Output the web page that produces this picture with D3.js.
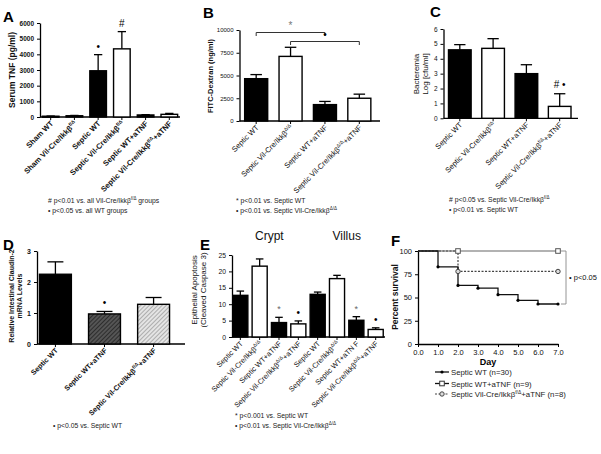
<!DOCTYPE html>
<html><head><meta charset="utf-8">
<script src="https://cdn.jsdelivr.net/npm/d3@7"></script>
<style>
body{margin:0;background:#fff;}
svg{display:block;font-family:"Liberation Sans",Arial,sans-serif;}
</style></head>
<body><svg id="c" width="601" height="454"></svg>
<script>
// ---------- DATA ----------
const aCategories = ["Sham WT","Sham Vil-Cre/Ikkβ^{f/Δ}","Septic WT","Septic Vil-Cre/Ikkβ^{f/Δ}","Septic WT+aTNF","Septic Vil-Cre/Ikkβ^{f/Δ}+aTNF"];
const aMeans = [50, 80, 2950, 4350, 130, 170];
const aSem = [10, 20, 1030, 1100, 20, 60];
const aMarks = ["","","•","#","",""];
const aTicks = [0,1000,2000,3000,4000,5000,6000];

const bCategories = ["Septic WT","Septic Vil-Cre/Ikkβ^{Δ/Δ}","Septic WT+aTNF","Septic Vil-Cre/Ikkβ^{Δ/Δ}+aTNF"];
const bMeans = [4650, 7100, 1800, 2500];
const bSem = [450, 1000, 350, 450];
const bTicks = [0,2500,5000,7500,10000];

const cCategories = ["Septic WT","Septic Vil-Cre/Ikkβ^{f/Δ}","Septic WT+aTNF","Septic Vil-Cre/Ikkβ^{f/Δ}+aTNF"];
const cMeans = [4.6, 4.7, 3.0, 0.8];
const cSem = [0.35, 0.65, 0.6, 0.85];
const cMarks = ["","","","# •"];
const cTicks = [0,1,2,3,4,5,6];

const dCategories = ["Septic WT","Septic WT+aTNF","Septic Vil-Cre/Ikkβ^{f/Δ}+aTNF"];
const dMeans = [2.25, 0.97, 1.28];
const dSem = [0.4, 0.08, 0.22];
const dMarks = ["","•",""];
const dTicks = [0,1,2,3];

const eCategories = ["Septic WT","Septic Vil-Cre/Ikkβ^{Δ/Δ}","Septic WT+aTNF","Septic Vil-Cre/Ikkβ^{Δ/Δ}+aTNF","Septic WT ","Septic Vil-Cre/Ikkβ^{Δ/Δ} ","Septic WT+aTN F","Septic Vil-Cre/Ikkβ^{Δ/Δ}+aTNF "];
const eMeans = [12.7, 21.6, 4.4, 4.0, 13.0, 17.8, 5.1, 2.3];
const eSem = [1.3, 2.2, 1.6, 0.9, 0.7, 1.0, 1.1, 0.5];
const eMarks = ["","","*","•","","","*","•"];
const eTicks = [0,5,10,15,20,25];
const eGroups = ["Crypt","Villus"];

const fDays = [0,1,2,3,4,5,6,7];
const fWT = [100,83,63,60,53,47,43,43];
const fWTaTNF = [100,100,100,100,100,100,100,100];
const fVilaTNF = [100,100,78,78,78,78,78,78];
const fTicksY = [0,25,50,75,100];
const fLegend = ["Septic WT (n=30)","Septic WT+aTNF (n=9)","Septic Vil-Cre/Ikkβ^{f/Δ}+aTNF (n=8)"];

// ---------- HELPERS ----------
const svg = d3.select("#c");
svg.append("rect").attr("width",601).attr("height",454).attr("fill","#fff");

const defs = svg.append("defs");
function hatch(id, bg, fg){
  const p = defs.append("pattern").attr("id",id).attr("patternUnits","userSpaceOnUse")
    .attr("width",3).attr("height",3).attr("patternTransform","rotate(45)");
  p.append("rect").attr("width",3).attr("height",3).attr("fill",bg);
  p.append("line").attr("x1",0).attr("y1",0).attr("x2",0).attr("y2",3).attr("stroke",fg).attr("stroke-width",1.2);
}
hatch("hDark","#555","#111");
hatch("hLight","#e4e4e4","#888");

function rich(sel, str, supSize){
  const parts = str.split(/\^\{([^}]*)\}/);
  let shifted = false;
  parts.forEach((p,i)=>{
    if(p==="") return;
    const t = sel.append("tspan").text(p);
    if(i%2===1){ t.attr("font-size",supSize||"70%").attr("dy",-3); shifted=true; }
    else if(shifted){ t.attr("dy",3); shifted=false; }
  });
}

function letter(x,y,t){
  svg.append("text").attr("x",x).attr("y",y).attr("font-size",15).attr("font-weight","bold").text(t);
}

function barPanel(cfg){
  const g = svg.append("g");
  const x = d3.scaleBand().domain(cfg.cats).range(cfg.xr).paddingInner(cfg.pi).paddingOuter(cfg.po);
  const y = d3.scaleLinear().domain(cfg.yd).range(cfg.yr);
  const fw = cfg.bold ? "bold" : "normal";
  // y axis
  const ax = g.append("g").attr("transform",`translate(${cfg.xr[0]},0)`)
    .call(d3.axisLeft(y).tickValues(cfg.ticks).tickSize(3).tickSizeOuter(0).tickFormat(d3.format("d")));
  ax.select(".domain").attr("stroke","#000").attr("stroke-width",1.3);
  ax.selectAll(".tick line").attr("stroke","#000").attr("stroke-width",1);
  ax.selectAll("text").attr("font-size",cfg.tf||7).attr("font-weight",fw).attr("font-family","Liberation Sans, Arial").attr("fill","#111");
  // x axis line
  g.append("line").attr("x1",cfg.xr[0]).attr("x2",cfg.xEnd).attr("y1",y(0)).attr("y2",y(0)).attr("stroke","#000").attr("stroke-width",1.3);
  g.selectAll(".xt").data(cfg.cats).join("line").attr("x1",d=>x(d)+x.bandwidth()/2).attr("x2",d=>x(d)+x.bandwidth()/2)
    .attr("y1",y(0)).attr("y2",y(0)+3).attr("stroke","#000");
  // bars
  const data = cfg.cats.map((c,i)=>({c,m:cfg.means[i],s:cfg.sem[i],f:cfg.fills[i],mk:cfg.marks?cfg.marks[i]:""}));
  const eb = g.selectAll(".eb").data(data).join("g");
  eb.append("line").attr("x1",d=>x(d.c)+x.bandwidth()/2).attr("x2",d=>x(d.c)+x.bandwidth()/2)
    .attr("y1",d=>y(d.m)).attr("y2",d=>y(d.m+d.s)).attr("stroke","#000").attr("stroke-width",1.3);
  eb.append("line").attr("x1",d=>x(d.c)+x.bandwidth()*0.25).attr("x2",d=>x(d.c)+x.bandwidth()*0.75)
    .attr("y1",d=>y(d.m+d.s)).attr("y2",d=>y(d.m+d.s)).attr("stroke","#000").attr("stroke-width",1.3);
  g.selectAll(".bar").data(data).join("rect")
    .attr("x",d=>x(d.c)).attr("width",x.bandwidth())
    .attr("y",d=>y(d.m)).attr("height",d=>Math.max(y(0)-y(d.m),1))
    .attr("fill",d=>d.f).attr("stroke","#000").attr("stroke-width",1.4);
  g.selectAll(".mk").data(data.filter(d=>d.mk)).join("text")
    .attr("x",d=>x(d.c)+x.bandwidth()/2).attr("y",d=>y(d.m+d.s)-(cfg.mkOff||5))
    .attr("text-anchor","middle").attr("font-size",d=>d.mk==="*"?9:10).attr("fill",d=>d.mk==="*"?"#666":"#000")
    .text(d=>d.mk);
  // x labels
  g.selectAll(".xl").data(data).join("text")
    .attr("transform",d=>`translate(${x(d.c)+x.bandwidth()/2+3},${y(0)+7}) rotate(${cfg.rot||-45})`)
    .attr("text-anchor","end").attr("font-size",cfg.lf||7).attr("font-weight",fw).attr("fill","#111")
    .each(function(d){ rich(d3.select(this), d.c.trim(), "5px"); });
  // y label
  const yl = g.append("text").attr("transform",`translate(${cfg.ylx},${cfg.yly}) rotate(-90)`)
    .attr("text-anchor","middle").attr("font-size",cfg.ylf||8).attr("font-weight",cfg.ylb?"bold":"normal").attr("fill","#111");
  cfg.ylab.forEach((t,i)=>yl.append("tspan").attr("x",0).attr("dy",i===0?0:cfg.ylf*1.15||9).text(t));
  // footnotes
  cfg.notes.forEach((t,i)=>{
    const tx = g.append("text").attr("x",cfg.nx).attr("y",cfg.ny+i*9.5).attr("font-size",6.8).attr("fill","#222");
    rich(tx,t,"4.5px");
  });
  return {g,x,y};
}

// ---------- PANEL A ----------
letter(3,22,"A");
barPanel({cats:aCategories,means:aMeans,sem:aSem,marks:aMarks,fills:["#000","#fff","#000","#fff","#000","#fff"],
  xr:[40,180],xEnd:180,pi:0.3,po:0.1,yd:[0,6000],yr:[117,23],ticks:aTicks,bold:true,tf:6.5,lf:7.6,
  ylab:["Serum TNF (pg/ml)"],ylx:15,yly:70,ylf:8.5,ylb:true,
  notes:["# p<0.01 vs. all Vil-Cre/Ikkβ^{f/Δ} groups","• p<0.05 vs. all WT groups"],nx:48,ny:203});

// ---------- PANEL B ----------
letter(203,18,"B");
const pb = barPanel({cats:bCategories,means:bMeans,sem:bSem,fills:["#000","#fff","#000","#fff"],
  xr:[239.5,376],xEnd:380,pi:0.33,po:0.15,yd:[0,10000],yr:[121,30],ticks:bTicks,bold:false,tf:6,lf:7.5,
  ylab:["FITC-Dextran (ng/ml)"],ylx:213,yly:76,ylf:7.5,ylb:true,
  notes:["* p<0.01 vs. Septic WT","• p<0.01 vs. Septic Vil-Cre/Ikkβ^{Δ/Δ}"],nx:236,ny:203});
// brackets
function bracket(p, c1, c2, yTop, leg, mark, mcol){
  const x1 = p.x(c1)+p.x.bandwidth()/2, x2 = p.x(c2)+p.x.bandwidth()/2;
  p.g.append("path").attr("d",`M${x1},${yTop+leg}V${yTop}H${x2}V${yTop+leg}`).attr("fill","none").attr("stroke","#333").attr("stroke-width",1);
  p.g.append("text").attr("x",(x1+x2)/2).attr("y",yTop-4).attr("text-anchor","middle").attr("font-size",10).attr("fill",mcol).text(mark);
}
bracket(pb, bCategories[0], bCategories[2], 32.5, 3.5, "*", "#777");
bracket(pb, bCategories[1], bCategories[3], 41.5, 3.5, "•", "#000");

// ---------- PANEL C ----------
letter(430,17,"C");
barPanel({cats:cCategories,means:cMeans,sem:cSem,marks:cMarks,fills:["#000","#fff","#000","#fff"],
  xr:[443.5,576],xEnd:578,pi:0.32,po:0.15,yd:[0,6],yr:[118.3,29],ticks:cTicks,bold:false,tf:6.5,lf:7.5,mkOff:6,
  ylab:["Bacteremia","Log [cfu/ml]"],ylx:419,yly:74,ylf:8,ylb:false,
  notes:["# p<0.05 vs. Septic Vil-Cre/Ikkβ^{f/Δ}","• p<0.01 vs. Septic WT"],nx:449,ny:202});

// ---------- PANEL D ----------
letter(3,250,"D");
barPanel({cats:dCategories,means:dMeans,sem:dSem,marks:dMarks,fills:["#000","url(#hDark)","url(#hLight)"],
  xr:[37,172],xEnd:185,pi:0.35,po:0.05,yd:[0,3],yr:[344,251],ticks:dTicks,bold:true,tf:7,lf:7.2,
  ylab:["Relative Intestinal Claudin-2","mRNA Levels"],ylx:14,yly:296,ylf:7,ylb:true,
  notes:["• p<0.05 vs. Septic WT"],nx:53,ny:428});

// ---------- PANEL E ----------
letter(200,250,"E");
const pe = barPanel({cats:eCategories,means:eMeans,sem:eSem,marks:eMarks,fills:["#000","#fff","#000","#fff","#000","#fff","#000","#fff"],
  xr:[232,384],xEnd:385,pi:0.22,po:0.04,yd:[0,25],yr:[337,255],ticks:eTicks,bold:false,tf:6.8,lf:7.3,
  ylab:["Epithelial Apoptosis","(Cleaved Caspase 3)"],ylx:197,yly:290,ylf:8,ylb:false,
  notes:["* p<0.001 vs. Septic WT","• p<0.01 vs. Septic Vil-Cre/Ikkβ^{Δ/Δ}"],nx:235,ny:418});
eGroups.forEach((t,i)=>{
  const c0 = pe.x(eCategories[i*4]), c1 = pe.x(eCategories[i*4+3])+pe.x.bandwidth();
  svg.append("text").attr("x",(c0+c1)/2).attr("y",240).attr("text-anchor","middle").attr("font-size",12).attr("fill","#111").text(t);
});

// ---------- PANEL F ----------
letter(391,246,"F");
{
  const g = svg.append("g");
  const x = d3.scaleLinear().domain([0,7]).range([418,558]);
  const y = d3.scaleLinear().domain([0,100]).range([344,251]);
  const ax = g.append("g").attr("transform","translate(418,0)")
    .call(d3.axisLeft(y).tickValues(fTicksY).tickSize(3).tickSizeOuter(0));
  const bx = g.append("g").attr("transform","translate(0,344)")
    .call(d3.axisBottom(x).tickValues(fDays).tickSize(3).tickSizeOuter(0));
  [ax,bx].forEach(a=>{
    a.select(".domain").attr("stroke","#000").attr("stroke-width",1.3);
    a.selectAll(".tick line").attr("stroke","#000");
    a.selectAll("text").attr("font-size",7.5).attr("font-family","Liberation Sans, Arial").attr("fill","#111");
  });
  g.append("text").attr("x",488).attr("y",365).attr("text-anchor","middle").attr("font-size",9).attr("font-weight","bold").text("Day");
  g.append("text").attr("transform","translate(398,297) rotate(-90)").attr("text-anchor","middle")
    .attr("font-size",8.5).attr("font-weight","bold").attr("fill","#111").text("Percent survival");
  const line = d3.line().x((d,i)=>x(fDays[i])).y(d=>y(d)).curve(d3.curveStepAfter);
  g.append("path").attr("d",line(fWTaTNF)).attr("fill","none").attr("stroke","#999").attr("stroke-width",1.3);
  g.append("path").attr("d",line(fVilaTNF)).attr("fill","none").attr("stroke","#444").attr("stroke-width",1.2).attr("stroke-dasharray","2,1.5");
  g.append("path").attr("d",line(fWT)).attr("fill","none").attr("stroke","#111").attr("stroke-width",1.3);
  // markers
  g.selectAll(".dw").data(fWT.slice(1)).join("circle").attr("cx",(d,i)=>x(fDays[i+1])).attr("cy",d=>y(d)).attr("r",1.6).attr("fill","#000");
  [2,7].forEach(di=>{
    g.append("rect").attr("x",x(di)-2.3).attr("y",y(fWTaTNF[di])-2.3).attr("width",4.6).attr("height",4.6).attr("fill","#fff").attr("stroke","#555").attr("stroke-width",1);
    g.append("circle").attr("cx",x(di)).attr("cy",y(fVilaTNF[di])).attr("r",2.2).attr("fill","#ddd").attr("stroke","#444").attr("stroke-width",1);
  });
  // bracket
  g.append("path").attr("d",`M${x(7)+3},${y(100)}H${x(7.4)}V${y(fWT[7])}H${x(7)+3}`).attr("fill","none").attr("stroke","#888").attr("stroke-width",0.9);
  g.append("text").attr("x",x(7.4)+3).attr("y",(y(100)+y(fWT[7]))/2+2).attr("font-size",7.5).attr("fill","#111").text("• p<0.05");
  // legend
  const ly = [372,383.5,394];
  const lx0 = 435, lx1 = 449;
  g.append("line").attr("x1",lx0).attr("x2",lx1).attr("y1",ly[0]).attr("y2",ly[0]).attr("stroke","#111").attr("stroke-width",1.3);
  g.append("circle").attr("cx",(lx0+lx1)/2).attr("cy",ly[0]).attr("r",1.6);
  g.append("line").attr("x1",lx0).attr("x2",lx1).attr("y1",ly[1]).attr("y2",ly[1]).attr("stroke","#111").attr("stroke-width",1.3);
  g.append("rect").attr("x",(lx0+lx1)/2-2.3).attr("y",ly[1]-2.3).attr("width",4.6).attr("height",4.6).attr("fill","#fff").attr("stroke","#333");
  g.append("line").attr("x1",lx0).attr("x2",lx1).attr("y1",ly[2]).attr("y2",ly[2]).attr("stroke","#444").attr("stroke-width",1.2).attr("stroke-dasharray","2,1.5");
  g.append("circle").attr("cx",(lx0+lx1)/2).attr("cy",ly[2]).attr("r",2.2).attr("fill","#ddd").attr("stroke","#444");
  fLegend.forEach((t,i)=>{
    const tx = g.append("text").attr("x",lx1+2).attr("y",ly[i]+3).attr("font-size",7.8).attr("fill","#222");
    rich(tx,t,"5px");
  });
}
</script></body></html>
